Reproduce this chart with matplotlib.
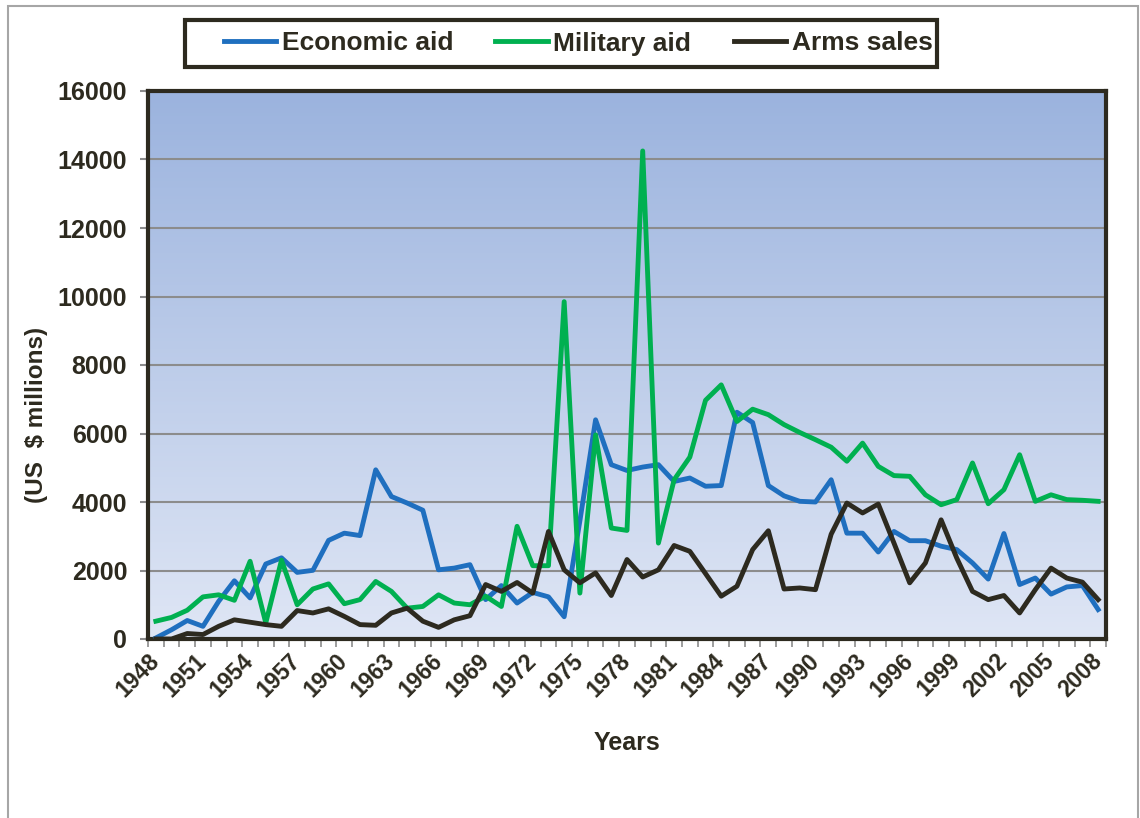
import numpy as np
import matplotlib
matplotlib.use('Agg')
import matplotlib.pyplot as plt
from matplotlib.patches import Rectangle

plt.rcParams['font.family'] = ['Liberation Sans', 'DejaVu Sans']
plt.rcParams['font.weight'] = 'bold'

# --- data (US $ millions) ---
years = list(range(1948, 2009))

economic_aid = [
    30, 270, 540, 370, 1100, 1700, 1200, 2190, 2370, 1945,
    2005, 2880, 3090, 3020, 4940, 4160, 3970, 3760, 2020, 2070,
    2170, 1150, 1560, 1050, 1360, 1230, 650, 3450, 6400, 5090,
    4920, 5020, 5090, 4600, 4700, 4460, 4480, 6620, 6320, 4480,
    4180, 4020, 4000, 4650, 3090, 3090, 2540, 3140, 2870, 2870,
    2710, 2610, 2220, 1750, 3080, 1590, 1780, 1310, 1520, 1560,
    860,
]
military_aid = [
    520, 630, 840, 1230, 1290, 1130, 2270, 470, 2300, 1000,
    1460, 1610, 1030, 1150, 1680, 1390, 900, 950, 1290, 1050,
    1000, 1250, 950, 3290, 2140, 2140, 9850, 1340, 5960, 3240,
    3170, 14250, 2800, 4650, 5310, 6970, 7420, 6350, 6710, 6550,
    6260, 6030, 5820, 5600, 5190, 5720, 5040, 4770, 4750, 4210,
    3920, 4070, 5140, 3950, 4360, 5380, 4020, 4210, 4070, 4050,
    4020,
]
arms_sales = [
    0, 0, 160, 130, 370, 560, 490, 420, 370, 830,
    760, 880, 660, 420, 400, 760, 900, 520, 340, 560,
    680, 1590, 1390, 1650, 1340, 3140, 2020, 1640, 1930, 1270,
    2320, 1810, 2020, 2730, 2560, 1910, 1250, 1540, 2610, 3160,
    1460, 1490, 1440, 3060, 3970, 3680, 3940, 2800, 1640, 2220,
    3480, 2360, 1390, 1150, 1270, 760, 1440, 2070, 1780, 1660,
    1150,
]
y_ticks = list(range(0, 16001, 2000))

DARK = '#2d2a1f'
GRID = '#8c8c8c'

fig = plt.figure(figsize=(11.4, 8.18), dpi=100)
ax = fig.add_axes([148 / 1140, 1 - 639 / 818, 958 / 1140, 548 / 818])

x = np.arange(len(years))
ax.set_xlim(-0.5, len(years) - 0.5)
ax.set_ylim(0, 16000)

# vertical gradient for the plot area
grad = np.linspace(0, 1, 256).reshape(-1, 1)
top = np.array([155, 179, 222]) / 255
bottom = np.array([223, 230, 245]) / 255
img = bottom + (top - bottom) * grad[..., None]
ax.imshow(img, extent=[-0.5, len(years) - 0.5, 0, 16000], origin='lower',
          aspect='auto', zorder=0)

for yv in y_ticks[1:]:
    ax.axhline(yv, color=GRID, lw=1.5, zorder=1)

ax.plot(x, economic_aid, color='#1f6fbf', lw=3.5, label='Economic aid',
        solid_joinstyle='round', zorder=3)
ax.plot(x, military_aid, color='#00b050', lw=3.5, label='Military aid',
        solid_joinstyle='round', zorder=3)
ax.plot(x, arms_sales, color=DARK, lw=3.5, label='Arms sales',
        solid_joinstyle='round', zorder=3)

for sp in ax.spines.values():
    sp.set_color(DARK)
    sp.set_linewidth(3)

ax.set_yticks(y_ticks)
ax.set_yticklabels([str(v) for v in y_ticks], fontsize=18, fontweight='bold', color=DARK)
ax.tick_params(axis='y', length=6, width=1.5, color=GRID, pad=9)

ax.set_xticks(x[::3])
ax.set_xticklabels([str(y) for y in years[::3]], fontsize=16.5, fontweight='bold',
                   color=DARK, rotation=45, ha='right', va='center',
                   rotation_mode='anchor')
ax.tick_params(axis='x', which='major', length=0, pad=13)
ax.set_xticks(np.arange(-0.5, len(years), 1), minor=True)
ax.tick_params(axis='x', which='minor', length=6, width=1.2, color=GRID)

fig.text(37 / 1140, 1 - 415 / 818, '(US  $ millions)', rotation=90,
         ha='center', va='center', fontsize=17.5, fontweight='bold', color=DARK)
fig.text(627 / 1140, 1 - 743 / 818, 'Years', ha='center', va='center',
         fontsize=18, fontweight='bold', color=DARK)

# legend entries without frame; the box is drawn separately (wider on the left)
leg = fig.legend(loc='center', bbox_to_anchor=(578 / 1140, 1 - 43.5 / 818), ncol=3,
                 fontsize=19, frameon=False, handlelength=2.0, handletextpad=0.2,
                 columnspacing=1.6, borderpad=0.4, borderaxespad=0)
for t in leg.get_texts():
    t.set_color(DARK)
    t.set_fontweight('bold')
fig.patches.append(Rectangle((185 / 1140, 1 - 67 / 818), 752 / 1140, 47 / 818,
                             transform=fig.transFigure, facecolor='white',
                             edgecolor=DARK, lw=3, zorder=0))

# outer chart frame
fig.patches.append(Rectangle((8 / 1140, -0.05), 1130 / 1140, 1.05 - 6 / 818,
                             transform=fig.transFigure, fill=False,
                             edgecolor='#a6a6a6', lw=1.5))

fig.savefig('out.png', dpi=100)
